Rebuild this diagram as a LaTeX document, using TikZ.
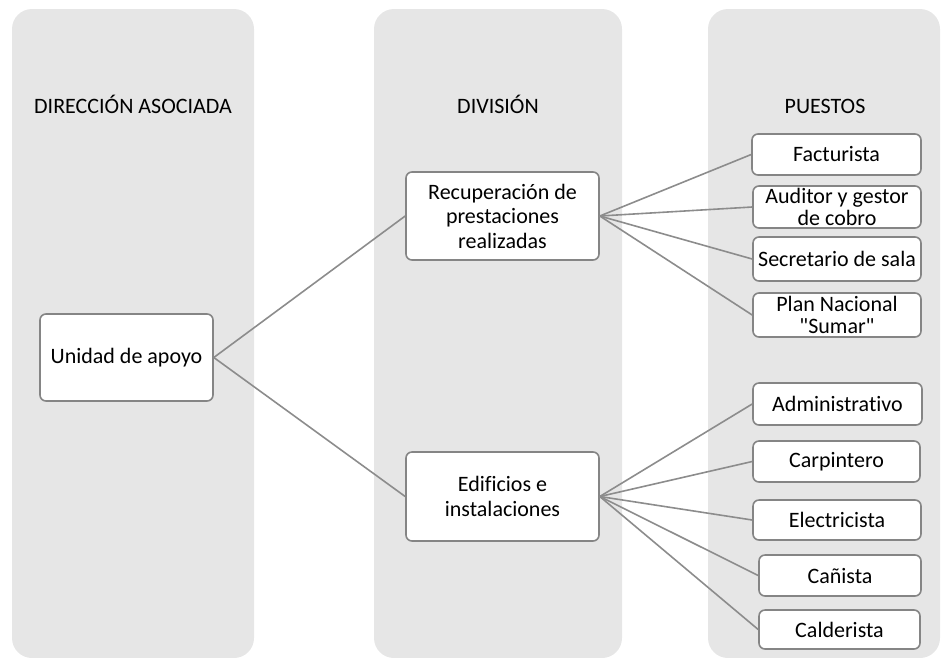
\documentclass[tikz,border=0pt]{standalone}
\usepackage{fontspec}
\setmainfont{Carlito}[Ligatures={TeXOff,NoCommon}]
\begin{document}
\begin{tikzpicture}[x=1pt,y=-1pt,
  panel/.style={fill=panelgray, draw=none, rounded corners=20pt},
  box/.style={draw=edgegray, line width=1.6pt, fill=white, rounded corners=6pt,
    inner sep=0pt, align=center, font=\fontsize{22}{24.5}\selectfont, text=black},
  link/.style={draw=linegray, line width=1.6pt},
  head/.style={font=\fontsize{22}{24}\selectfont, text=black, anchor=base}]
\definecolor{panelgray}{HTML}{E6E6E6}
\definecolor{edgegray}{HTML}{858585}
\definecolor{linegray}{HTML}{8C8C8C}
\useasboundingbox (0,0) rectangle (941,657);
\clip (0,0) rectangle (941,657);

% column backgrounds
\path[panel] (12,9) rectangle (254,658);
\path[panel] (374,9) rectangle (622,658);
\path[panel] (708,9) rectangle (940,658);

% column headings
\node[head] (h1) at (133,113) {DIRECCIÓN ASOCIADA};
\node[head] (h2) at (498,113) {DIVISIÓN};
\node[head] (h3) at (825,113) {PUESTOS};

% boxes given by their corners
\newcommand{\orgbox}[6]{\node[box, minimum width=#4pt-#2pt, minimum height=#5pt-#3pt]
  (#1) at ({(#2+#4)/2},{(#3+#5)/2}) {#6};}
\orgbox{u}{40}{314}{213}{401}{Unidad de apoyo}
\orgbox{rec}{406}{172}{599}{260}{Recuperación de\\prestaciones\\realizadas}
\orgbox{edi}{406}{452}{599}{541}{Edificios e\\instalaciones}
\orgbox{fac}{752}{134}{921}{175}{Facturista}
\orgbox{aud}{753}{186}{921}{228}{Auditor y gestor\\[-2pt]de cobro}
\orgbox{sec}{753}{237}{921}{281}{Secretario de sala}
\orgbox{pla}{753}{293}{921}{337}{Plan Nacional\\[-2pt]"Sumar"}
\orgbox{adm}{753}{383}{922}{425}{Administrativo}
\orgbox{car}{753}{441}{920}{482}{Carpintero}
\orgbox{ele}{753}{500}{921}{540}{Electricista}
\orgbox{can}{759}{555}{921}{596}{Cañista}
\orgbox{cal}{759}{610}{920}{649}{Calderista}

% connectors
\foreach \c in {rec,edi} \draw[link] (u.east) -- (\c.west);
\foreach \c in {fac,aud,sec,pla} \draw[link] (rec.east) -- (\c.west);
\foreach \c in {adm,car,ele,can,cal} \draw[link] (edi.east) -- (\c.west);
\end{tikzpicture}
\end{document}
